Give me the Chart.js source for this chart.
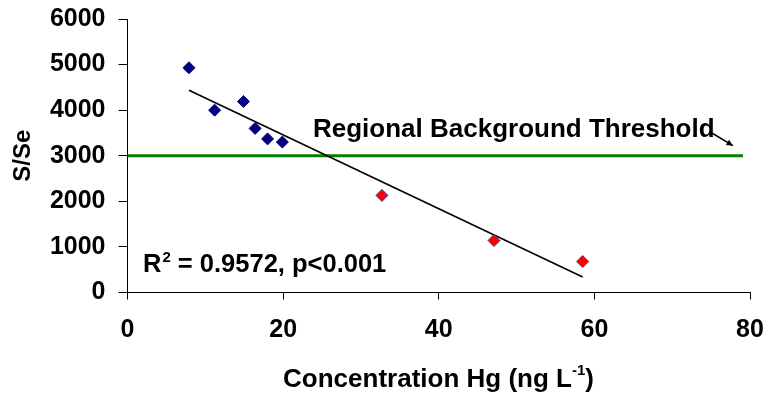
<!DOCTYPE html>
<html>
<head>
<meta charset="utf-8">
<script src="https://cdn.jsdelivr.net/npm/chart.js@4.4.0/dist/chart.umd.min.js"></script>
<style>
  html, body { margin: 0; padding: 0; background: #fff; }
  #wrap { width: 765px; height: 396px; position: relative; }
</style>
</head>
<body>
<div id="wrap"><canvas id="myChart"></canvas></div>
<script>
// Background sites (blue) and mercury sites (red)
var bgX = [7.9, 11.2, 14.9, 16.4, 18.0, 19.9];
var bgY = [4930, 4000, 4190, 3600, 3370, 3300];
var hgX = [32.7, 47.1, 58.5];
var hgY = [2130, 1140, 680];

// Regression line ends and threshold line
var trendX = [7.9, 58.5];
var trendY = [4435, 340];
var thresholdX = [0, 79.1];
var thresholdY = [3000, 3000];

// Axis ticks
var xTicks = [0, 20, 40, 60, 80];
var yTicks = [0, 1000, 2000, 3000, 4000, 5000, 6000];

// Arrow pointing at the threshold line (data coords)
var arrowFrom = [75.0, 3510];
var arrowTo = [77.8, 3220];

var FONT = "'Liberation Sans', Arial, sans-serif";

function toPoints(xs, ys) {
  return xs.map(function (x, i) { return { x: x, y: ys[i] }; });
}

var textPlugin = {
  id: 'texts',
  afterDatasetsDraw: function (chart) {
    var ctx = chart.ctx;
    var xs = chart.scales.x, ys = chart.scales.y;
    ctx.save();
    ctx.fillStyle = '#000';
    ctx.textBaseline = 'alphabetic';
    ctx.textAlign = 'left';

    // threshold label
    ctx.font = 'bold 26px ' + FONT;
    ctx.fillText('Regional Background Threshold', 313, 137);

    // arrow
    var x1 = xs.getPixelForValue(arrowFrom[0]), y1 = ys.getPixelForValue(arrowFrom[1]);
    var x2 = xs.getPixelForValue(arrowTo[0]), y2 = ys.getPixelForValue(arrowTo[1]);
    ctx.strokeStyle = '#000';
    ctx.lineWidth = 1.5;
    ctx.beginPath();
    ctx.moveTo(x1, y1);
    ctx.lineTo(x2, y2);
    ctx.stroke();
    var ang = Math.atan2(y2 - y1, x2 - x1);
    ctx.beginPath();
    ctx.moveTo(x2, y2);
    ctx.lineTo(x2 - 7 * Math.cos(ang - 0.45), y2 - 7 * Math.sin(ang - 0.45));
    ctx.lineTo(x2 - 7 * Math.cos(ang + 0.45), y2 - 7 * Math.sin(ang + 0.45));
    ctx.closePath();
    ctx.fill();

    // R squared label
    var x = 143;
    ctx.font = 'bold 25.5px ' + FONT;
    ctx.fillText('R', x, 272);
    x += ctx.measureText('R').width;
    ctx.font = 'bold 15px ' + FONT;
    ctx.fillText('2', x + 1, 262);
    x += ctx.measureText('2').width + 1;
    ctx.font = 'bold 25.5px ' + FONT;
    ctx.fillText(' = 0.9572, p<0.001', x, 272);

    // x axis title with superscript
    var a = 'Concentration Hg (ng L', sup = '-1', b = ')';
    ctx.font = 'bold 26px ' + FONT;
    var wa = ctx.measureText(a).width, wb = ctx.measureText(b).width;
    ctx.font = 'bold 15px ' + FONT;
    var ws = ctx.measureText(sup).width;
    var left = 438.5 - (wa + ws + wb) / 2;
    ctx.font = 'bold 26px ' + FONT;
    ctx.fillText(a, left, 387);
    ctx.font = 'bold 15px ' + FONT;
    ctx.fillText(sup, left + wa, 375);
    ctx.font = 'bold 26px ' + FONT;
    ctx.fillText(b, left + wa + ws, 387);
    ctx.restore();
  }
};

function plain(v) { return String(v); }

var ctx = document.getElementById('myChart').getContext('2d');
var myChart = new Chart(ctx, {
  type: 'scatter',
  data: {
    datasets: [
      {
        label: 'Threshold',
        data: toPoints(thresholdX, thresholdY),
        showLine: true,
        borderColor: '#008000',
        borderWidth: 3,
        pointRadius: 0,
        order: 4
      },
      {
        label: 'Trend',
        data: toPoints(trendX, trendY),
        showLine: true,
        borderColor: '#000',
        borderWidth: 1.6,
        pointRadius: 0,
        order: 3
      },
      {
        label: 'Background',
        data: toPoints(bgX, bgY),
        pointStyle: 'rectRot',
        pointRadius: 6,
        backgroundColor: '#000080',
        borderColor: '#000080',
        borderWidth: 1,
        order: 1
      },
      {
        label: 'Hg sites',
        data: toPoints(hgX, hgY),
        pointStyle: 'rectRot',
        pointRadius: 6,
        backgroundColor: '#ff0000',
        borderColor: '#3a3aa0',
        borderWidth: 1,
        order: 2
      }
    ]
  },
  options: {
    responsive: true,
    maintainAspectRatio: false,
    animation: false,
    layout: {
      padding: { top: 19, right: 0, left: 0, bottom: 0 }
    },
    scales: {
      x: {
        type: 'linear',
        min: 0,
        max: 80,
        afterBuildTicks: function (scale) {
          scale.ticks = xTicks.map(function (v) { return { value: v }; });
        },
        afterFit: function (scale) {
          scale.height = 103.5;
          scale.paddingRight = 15;
        },
        grid: {
          drawOnChartArea: false,
          drawTicks: true,
          tickLength: 7,
          color: '#000'
        },
        border: { color: '#000', width: 1 },
        ticks: {
          color: '#000',
          padding: 16,
          maxRotation: 0,
          callback: plain,
          font: { family: FONT, size: 25, weight: 'bold' }
        }
      },
      y: {
        min: 0,
        max: 6000,
        afterBuildTicks: function (scale) {
          scale.ticks = yTicks.map(function (v) { return { value: v }; });
        },
        afterFit: function (scale) {
          scale.width = 127.5;
          scale.paddingTop = 0;
          scale.paddingBottom = 0;
        },
        grid: {
          drawOnChartArea: false,
          drawTicks: true,
          tickLength: 9,
          color: '#000'
        },
        border: { color: '#000', width: 1 },
        ticks: {
          color: '#000',
          padding: 13,
          callback: plain,
          font: { family: FONT, size: 25, weight: 'bold' }
        },
        title: {
          display: true,
          text: 'S/Se',
          color: '#000',
          padding: { top: 9, bottom: 0 },
          font: { family: FONT, size: 24, weight: 'bold' }
        }
      }
    },
    plugins: {
      legend: { display: false },
      tooltip: { enabled: false }
    }
  },
  plugins: [textPlugin]
});
</script>
</body>
</html>
